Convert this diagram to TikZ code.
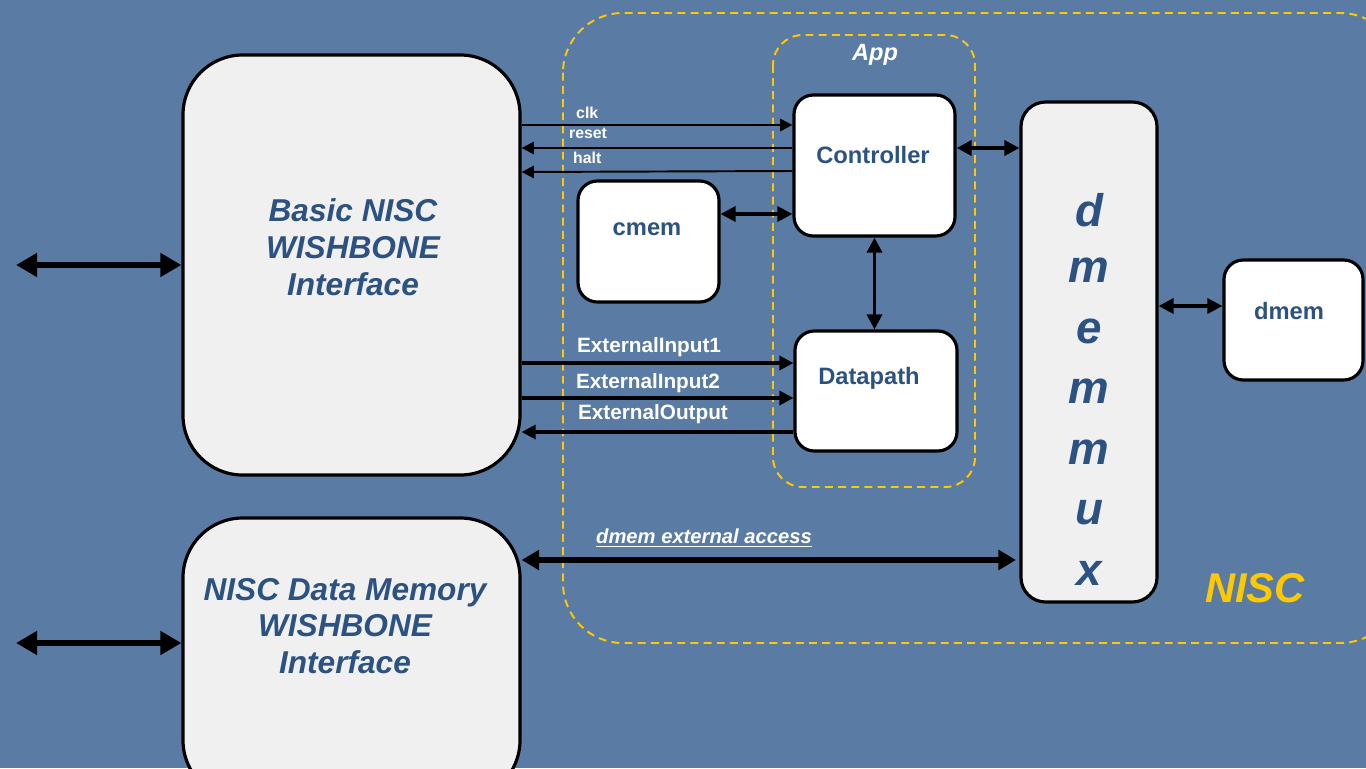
\documentclass[tikz,border=0pt]{standalone}
\usepackage{fontspec}
\setmainfont{Liberation Sans}
\usetikzlibrary{arrows.meta,fit,calc}
\definecolor{bgblue}{HTML}{5A7CA4}
\definecolor{navy}{HTML}{2C5282}
\definecolor{nyellow}{HTML}{FFC800}
\definecolor{panel}{HTML}{F0F0F0}
\tikzset{
  graybox/.style={draw=black, line width=1.8pt, fill=panel, inner sep=0pt},
  whitebox/.style={draw=black, line width=1.8pt, fill=white, inner sep=0pt, rounded corners=11pt},
  region/.style={draw=nyellow, line width=1.1pt, dash pattern=on 4.5pt off 3pt},
  bigtxt/.style={text=navy, font=\bfseries\itshape\fontsize{18}{21}\selectfont, align=center},
  boxtxt/.style={text=navy, font=\bfseries\fontsize{13.5}{16}\selectfont},
  sigtxt/.style={text=white, font=\bfseries\fontsize{9}{10}\selectfont, anchor=base west},
  bustxt/.style={text=white, font=\bfseries\fontsize{11.8}{13}\selectfont},
  thin sig/.style={line width=1.1pt, -{Triangle[length=7pt,width=7pt]}},
  bus/.style={line width=1.8pt, -{Triangle[length=8pt,width=8pt]}},
  bidi/.style={line width=1.9pt, {Triangle[length=8.5pt,width=8.5pt]}-{Triangle[length=8.5pt,width=8.5pt]}},
  fatbidi/.style={line width=3.2pt, {Triangle[length=12pt,width=13pt]}-{Triangle[length=12pt,width=13pt]}},
  accbidi/.style={line width=3.2pt, {Triangle[length=10pt,width=11pt]}-{Triangle[length=10pt,width=11pt]}},
}
\begin{document}
\begin{tikzpicture}[x=0.02cm, y=-0.02cm]
  % canvas
  \fill[bgblue] (0,0) rectangle (1366,768);
  \useasboundingbox (0,0) rectangle (1366,768);
  \clip (0,0) rectangle (1366,768);

  % dashed regions
  \draw[region, rounded corners=34pt] (563,13) rectangle (1400,643);
  \draw[region, rounded corners=17pt] (773,35) rectangle (975,487);
  \node[text=white, font=\bfseries\itshape\fontsize{13.4}{15}\selectfont] (applbl) at (875,55) {App};
  \node[text=nyellow, font=\bfseries\itshape\fontsize{23.7}{26}\selectfont] (nisclbl) at (1255,588) {NISC};

  % wishbone interfaces
  \node[graybox, rounded corners=34pt, fit={(183,55) (520,475)}] (basic) {};
  \node[bigtxt] (basictxt) at (353,247) {Basic NISC\\WISHBONE\\Interface};
  \node[graybox, rounded corners=34pt, fit={(183,518) (520,800)}] (dmwb) {};
  \node[bigtxt] (dmwbtxt) at (345,626) {NISC Data Memory\\WISHBONE\\Interface};

  % application blocks
  \node[whitebox, fit={(794,95) (955,236)}] (ctrl) {};
  \node[boxtxt] (ctrltxt) at (873,155) {Controller};
  \node[whitebox, fit={(578,181) (719,302)}] (cmem) {};
  \node[boxtxt] (cmemtxt) at (647,229) {cmem};
  \node[whitebox, fit={(795,331) (957,451)}] (dp) {};
  \node[boxtxt] (dptxt) at (869,378) {Datapath};

  % data memory mux and memory
  \node[graybox, rounded corners=14pt, fit={(1021,102) (1157,602)}] (mux) {};
  \foreach \ch [count=\i from 0] in {d,m,e,m,m,u,x}
    \node[text=navy, font=\bfseries\itshape\fontsize{26}{28}\selectfont] (mux\i) at (1089,210+60.5*\i) {\ch};
  \node[whitebox, fit={(1224,260) (1363,380)}] (dmem) {};
  \node[boxtxt] (dmemtxt) at (1289,311) {dmem};

  % external bus ports
  \coordinate (portA) at (16,265);
  \coordinate (portB) at (16,643);
  \draw[fatbidi] (portA) -- (basic.west |- portA);
  \draw[fatbidi] (portB) -- (dmwb.west |- portB);

  % control signals
  \draw[thin sig] (basic.east |- 0,125) -- (ctrl.west |- 0,125);
  \draw[thin sig] (ctrl.west |- 0,148) -- (basic.east |- 0,148);
  \draw[thin sig] (ctrl.west |- 0,171) -- (basic.east |- 0,172);
  \node[sigtxt] (clklbl) at (570,118) {clk};
  \node[sigtxt] (rstlbl) at (563,138) {reset};
  \node[sigtxt] (haltlbl) at (567,163) {halt};

  % data signals
  \draw[bus] (basic.east |- 0,363) -- (dp.west |- 0,363);
  \draw[bus] (basic.east |- 0,398) -- (dp.west |- 0,398);
  \draw[bus] (dp.west |- 0,432) -- (basic.east |- 0,432);
  \node[bustxt] (ei1) at (649,347) {ExternalInput1};
  \node[bustxt] (ei2) at (648,383) {ExternalInput2};
  \node[bustxt] (eo) at (653,414) {ExternalOutput};

  % internal links
  \draw[bidi] (cmem.east |- 0,214) -- (ctrl.west |- 0,214);
  \draw[bidi] (ctrl.east |- 0,148) -- (mux.west |- 0,148);
  \draw[bidi] (ctrl.south) -- (ctrl.south |- dp.north);
  \draw[bidi] (mux.east |- 0,306) -- (dmem.west |- 0,306);

  % external data memory access
  \coordinate (muxin) at (1016,560);
  \draw[accbidi] (dmwb.east |- muxin) -- (muxin);
  \node[text=white, font=\bfseries\itshape\fontsize{11.5}{13}\selectfont] (acclbl) at (704,538) {\underline{dmem external access}};
\end{tikzpicture}
\end{document}
